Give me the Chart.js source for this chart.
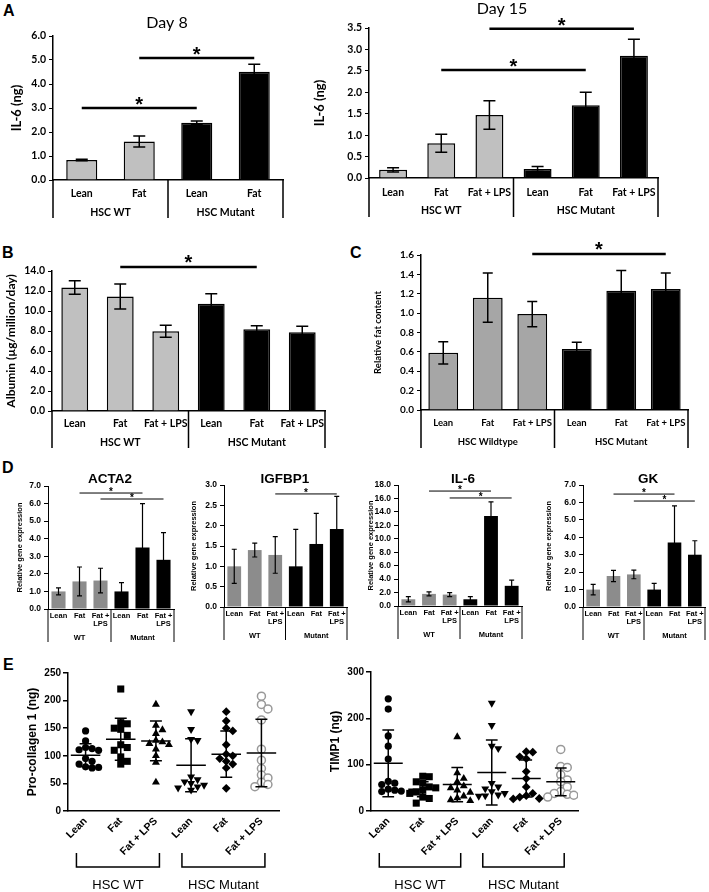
<!DOCTYPE html>
<html>
<head>
<meta charset="utf-8">
<script src="https://cdn.jsdelivr.net/npm/chart.js@4.4.0/dist/chart.umd.min.js"></script>
<style>
  body { margin: 0; background: #fff; }
  #fig { position: relative; width: 709px; height: 892px; overflow: hidden; }
  #fig canvas { position: absolute; }
  .letter { position: absolute; font: bold 16px "Liberation Sans", Arial, sans-serif; color: #000; }
</style>
</head>
<body>
<div id="fig">
  <div class="letter" style="left:3px;top:2px">A</div>
  <div class="letter" style="left:2px;top:244px">B</div>
  <div class="letter" style="left:350px;top:244px">C</div>
  <div class="letter" style="left:2px;top:459px">D</div>
  <div class="letter" style="left:3px;top:656px">E</div>
</div>
<script>
// ---- data ----
const catsDay8 = ['Lean', 'Fat', 'Lean', 'Fat'];
const cats6 = ['Lean', 'Fat', 'Fat + LPS', 'Lean', 'Fat', 'Fat + LPS'];
const catsD = ['Lean', 'Fat', ['Fat +', 'LPS'], 'Lean', 'Fat', ['Fat +', 'LPS']];
const groupsHSC = ['HSC WT', 'HSC Mutant'];
const groupsC = ['HSC Wildtype', 'HSC Mutant'];
const groupsD = ['WT', 'Mutant'];

const il6Day8 = [0.83, 1.6, 2.39, 4.51];
const il6Day8Err = [0.03, 0.23, 0.07, 0.31];
const il6Day8Sig = [[0, 2, 3.0], [1, 3, 5.08]];

const il6Day15 = [0.19, 0.81, 1.47, 0.21, 1.7, 2.85];
const il6Day15Err = [0.05, 0.21, 0.33, 0.06, 0.3, 0.39];
const il6Day15Sig = [[1, 4, 2.52], [2, 5, 3.48]];

const albumin = [12.35, 11.45, 7.97, 10.73, 8.17, 7.88];
const albuminErr = [0.67, 1.25, 0.6, 1.0, 0.35, 0.6];
const albuminSig = [[1, 4, 14.4]];

const fatContent = [0.59, 1.16, 0.99, 0.63, 1.23, 1.25];
const fatContentErr = [0.115, 0.255, 0.13, 0.07, 0.21, 0.165];
const fatContentSig = [[2, 5, 1.61]];

const acta2 = [1.0, 1.57, 1.62, 1.0, 3.5, 2.8];
const acta2Err = [0.2, 0.82, 0.7, 0.5, 2.5, 1.55];
const acta2Sig = [[1, 4, 6.6], [2, 5, 6.26]];

const igfbp1 = [1.0, 1.4, 1.28, 1.0, 1.55, 1.92];
const igfbp1Err = [0.42, 0.17, 0.45, 0.91, 0.75, 0.8];
const igfbp1Sig = [[2, 5, 2.78]];

const il6Gene = [1.0, 1.8, 1.7, 1.0, 13.4, 3.0];
const il6GeneErr = [0.4, 0.3, 0.3, 0.4, 2.1, 0.85];
const il6GeneSig = [[1, 4, 17.1], [2, 5, 16.07]];

const gk = [1.0, 1.78, 1.87, 1.0, 3.7, 3.0];
const gkErr = [0.3, 0.32, 0.25, 0.35, 2.1, 0.8];
const gkSig = [[1, 4, 6.48], [2, 5, 6.08]];

const procolLeanWT = [145, 127, 115, 113, 111, 110, 95, 90, 85, 80, 78, 79];
const procolFatWT = [221, 160, 158, 150, 148, 137, 120, 115, 110, 98, 90, 85];
const procolLpsWT = [193, 155, 147, 140, 128, 125, 122, 120, 112, 100, 88, 52];
const procolLeanMut = [180, 148, 130, 128, 62, 57, 53, 50, 47, 44, 42, 38];
const procolFatMut = [180, 163, 150, 145, 120, 103, 100, 95, 90, 85, 78, 41];
const procolLpsMut = [208, 193, 185, 165, 112, 92, 77, 65, 60, 52, 48, 44];
const procolMean = [101, 130, 127, 83, 103, 105];
const procolSD = [21, 38, 36, 48, 42, 61];

const timpLeanWT = [242, 220, 162, 140, 112, 64, 60, 57, 47, 45, 43, 42];
const timpFatWT = [75, 74, 63, 60, 52, 50, 45, 41, 38, 30, 27, 17];
const timpLpsWT = [160, 82, 70, 63, 54, 50, 45, 40, 32, 28, 24, 22];
const timpLeanMut = [233, 185, 140, 135, 60, 52, 48, 42, 38, 35, 33, 32];
const timpFatMut = [128, 127, 117, 113, 85, 70, 52, 38, 33, 30, 27, 26];
const timpLpsMut = [133, 96, 94, 78, 67, 63, 52, 42, 38, 36, 34, 30];
const timpMean = [103, 47, 57, 83, 70, 63];
const timpSD = [72, 16, 37, 70, 40, 30];

// ---- helpers ----
const XL = 'Lato, "Liberation Sans", sans-serif';
const AR = '"Liberation Sans", Arial, sans-serif';
const fig = document.getElementById('fig');

function addCanvas(box) {
  const c = document.createElement('canvas');
  c.width = box[2];
  c.height = box[3];
  c.style.left = box[0] + 'px';
  c.style.top = box[1] + 'px';
  fig.appendChild(c);
  return c;
}

function barExtras(s) {
  return {
    id: 'barExtras',
    afterDatasetsDraw(chart) {
      const {ctx, chartArea: a, scales: {x, y}} = chart;
      const ox = s.box[0], oy = s.box[1];
      ctx.save();
      ctx.strokeStyle = '#000';
      ctx.fillStyle = '#000';
      // error bars
      ctx.lineWidth = s.errW;
      s.errors.forEach((e, i) => {
        const cx = x.getPixelForValue(i), v = s.values[i];
        const y1 = y.getPixelForValue(v + e), y0 = y.getPixelForValue(v - e);
        ctx.beginPath();
        ctx.moveTo(cx, y1); ctx.lineTo(cx, y0);
        ctx.moveTo(cx - s.cap / 2, y1); ctx.lineTo(cx + s.cap / 2, y1);
        ctx.moveTo(cx - s.cap / 2, y0); ctx.lineTo(cx + s.cap / 2, y0);
        ctx.stroke();
      });
      // group dividers + labels
      const per = s.labels.length / s.groups.length;
      const edges = [a.left];
      for (let g = 1; g < s.groups.length; g++) {
        edges.push((x.getPixelForValue(g * per - 1) + x.getPixelForValue(g * per)) / 2);
      }
      edges.push(a.right);
      ctx.lineWidth = s.axisW;
      ctx.beginPath();
      edges.forEach(ex => { ctx.moveTo(ex, a.bottom); ctx.lineTo(ex, a.bottom + s.divDrop); });
      ctx.stroke();
      ctx.textAlign = 'center';
      ctx.textBaseline = 'middle';
      ctx.font = s.groupFont;
      s.groups.forEach((g, k) => ctx.fillText(g, (edges[k] + edges[k + 1]) / 2, a.bottom + s.groupY));
      // significance bars
      ctx.lineWidth = s.sigW;
      s.sig.forEach(([i, j, v]) => {
        const yy = y.getPixelForValue(v), x0 = x.getPixelForValue(i), x1 = x.getPixelForValue(j);
        ctx.beginPath(); ctx.moveTo(x0, yy); ctx.lineTo(x1, yy); ctx.stroke();
        ctx.font = 'bold ' + s.starSize + 'px ' + AR;
        ctx.textBaseline = 'alphabetic';
        ctx.fillText('*', (x0 + x1) / 2, yy - s.starGap + 0.56 * s.starSize);
      });
      ctx.textBaseline = 'middle';
      if (s.title) {
        ctx.font = s.title.font;
        ctx.fillText(s.title.text, s.title.x - ox, s.title.y - oy);
      }
      ctx.translate(s.yTitle.x - ox, (a.top + a.bottom) / 2);
      ctx.rotate(-Math.PI / 2);
      ctx.font = s.yTitle.font;
      ctx.fillText(s.yTitle.text, 0, 0);
      ctx.restore();
    }
  };
}

function barChart(s) {
  const [bx, by, bw, bh] = s.box;
  const [l, t, r, b] = s.area;
  const half = s.labels.length / 2;
  return new Chart(addCanvas(s.box), {
    type: 'bar',
    data: {
      labels: s.labels,
      datasets: [{
        data: s.values,
        backgroundColor: s.values.map((v, i) => i < half ? s.gray : '#000'),
        borderColor: '#000',
        borderWidth: s.border,
        barPercentage: s.barPct,
        categoryPercentage: 1
      }]
    },
    options: {
      responsive: false,
      animation: false,
      events: [],
      layout: { padding: { top: t - by, right: bx + bw - r, left: 0, bottom: 0 } },
      plugins: { legend: { display: false }, tooltip: { enabled: false } },
      scales: {
        x: {
          grid: { display: false, drawTicks: false },
          border: { color: '#000', width: s.axisW },
          ticks: {
            color: '#000', autoSkip: false, maxRotation: 0, padding: s.xPad,
            font: { family: s.family, size: s.xTick, weight: 'bold', lineHeight: s.lineH || 1.2 }
          },
          afterFit: sc => { sc.height = by + bh - b; }
        },
        y: {
          min: 0, max: s.max,
          grid: { drawOnChartArea: false, color: '#000', tickLength: 4, lineWidth: 1 },
          border: { color: '#000', width: s.axisW },
          ticks: {
            color: '#000', stepSize: s.step, padding: 3,
            font: { family: s.family, size: s.yTick, weight: 'bold' },
            callback: v => v.toFixed(1)
          },
          afterFit: sc => { sc.width = l - bx; }
        }
      }
    },
    plugins: [barExtras(s)]
  });
}

function dotExtras(s) {
  return {
    id: 'dotExtras',
    afterDatasetsUpdate(chart) {
      // spread points sideways so they do not overlap (column scatter)
      chart.data.datasets.forEach((ds, i) => {
        const pts = chart.getDatasetMeta(i).data;
        const placed = [];
        pts.slice().sort((p, q) => p.y - q.y).forEach(p => {
          const cx = p.x;
          for (let k = 0; k < 20; k++) {
            const off = (k % 2 ? 1 : -1) * Math.ceil(k / 2) * s.jit;
            if (placed.every(q => Math.hypot(q.x - cx - off, q.y - p.y) >= s.jit)) { p.x = cx + off; break; }
          }
          placed.push(p);
        });
      });
    },
    afterDatasetsDraw(chart) {
      const {ctx, chartArea: a, scales: {x, y}} = chart;
      const cw = x.getPixelForValue(1) - x.getPixelForValue(0);
      ctx.save();
      ctx.strokeStyle = '#000';
      ctx.fillStyle = '#000';
      ctx.lineWidth = 1.5;
      s.means.forEach((m, i) => {
        const cx = x.getPixelForValue(i);
        const ym = y.getPixelForValue(m), y1 = y.getPixelForValue(m + s.sds[i]), y0 = y.getPixelForValue(m - s.sds[i]);
        ctx.beginPath();
        ctx.moveTo(cx - cw * 0.42, ym); ctx.lineTo(cx + cw * 0.42, ym);
        ctx.moveTo(cx, y1); ctx.lineTo(cx, y0);
        ctx.moveTo(cx - cw * 0.17, y1); ctx.lineTo(cx + cw * 0.17, y1);
        ctx.moveTo(cx - cw * 0.17, y0); ctx.lineTo(cx + cw * 0.17, y0);
        ctx.stroke();
      });
      // group brackets
      ctx.font = '13px ' + AR;
      ctx.textAlign = 'center';
      ctx.textBaseline = 'middle';
      s.groups.forEach((g, k) => {
        const x0 = x.getPixelForValue(3 * k) - cw * 0.26, x1 = x.getPixelForValue(3 * k + 2) + cw * 0.1;
        const yb = a.bottom + 56, yt = a.bottom + 42;
        ctx.beginPath();
        ctx.moveTo(x0, yt); ctx.lineTo(x0, yb); ctx.lineTo(x1, yb); ctx.lineTo(x1, yt);
        ctx.stroke();
        ctx.fillText(g, (x0 + x1) / 2, a.bottom + 74);
      });
      ctx.translate(s.yTitle.x - s.box[0], (a.top + a.bottom) / 2);
      ctx.rotate(-Math.PI / 2);
      ctx.font = 'bold 12px ' + AR;
      ctx.fillText(s.yTitle.text, 0, 0);
      ctx.restore();
    }
  };
}

const marks = [
  { pointStyle: 'circle', radius: 3.6, rotation: 0 },
  { pointStyle: 'rect', radius: 5, rotation: 0 },
  { pointStyle: 'triangle', radius: 4.6, rotation: 0 },
  { pointStyle: 'triangle', radius: 4.6, rotation: 180 },
  { pointStyle: 'rectRot', radius: 4.4, rotation: 0 },
  { pointStyle: 'circle', radius: 4, rotation: 0, open: true }
];

function dotChart(s) {
  const [bx, by, bw, bh] = s.box;
  const [l, t, r, b] = s.area;
  return new Chart(addCanvas(s.box), {
    type: 'scatter',
    data: {
      datasets: s.series.map((vals, i) => ({
        data: vals.map(v => ({ x: i, y: v })),
        pointStyle: marks[i].pointStyle,
        rotation: marks[i].rotation,
        pointRadius: marks[i].radius,
        backgroundColor: marks[i].open ? '#fff' : '#000',
        borderColor: marks[i].open ? '#999' : '#000',
        borderWidth: marks[i].open ? 1.5 : 0
      }))
    },
    options: {
      responsive: false,
      animation: false,
      events: [],
      layout: { padding: { top: t - by, right: bx + bw - r, left: 0, bottom: 0 } },
      plugins: { legend: { display: false }, tooltip: { enabled: false } },
      scales: {
        x: {
          type: 'linear', min: -0.5, max: 5.5,
          grid: { display: false, drawTicks: false },
          border: { color: '#000', width: 1.5 },
          afterBuildTicks: sc => { sc.ticks = s.labels.map((lab, i) => ({ value: i })); },
          ticks: {
            color: '#000', autoSkip: false, minRotation: 45, maxRotation: 45, padding: 4,
            font: { family: AR, size: 10.5, weight: 'bold' },
            callback: v => s.labels[v]
          },
          afterFit: sc => { sc.height = by + bh - b; }
        },
        y: {
          min: 0, max: s.max,
          grid: { drawOnChartArea: false, color: '#000', tickLength: 5, lineWidth: 1.5 },
          border: { color: '#000', width: 1.5 },
          ticks: { color: '#000', stepSize: s.step, padding: 2, font: { family: AR, size: 10, weight: 'bold' } },
          afterFit: sc => { sc.width = l - bx; }
        }
      }
    },
    plugins: [dotExtras(s)]
  });
}

// ---- panel A ----
const excel = {
  family: XL, border: 1.5, axisW: 1.5, errW: 1.5, sigW: 2.5, starSize: 20, starGap: 8,
  groupFont: 'bold 10.5px ' + XL, xTick: 10.5, yTick: 10.5, cap: 12
};
barChart(Object.assign({}, excel, {
  box: [0, 0, 300, 230], area: [53, 36, 283, 180],
  labels: catsDay8, groups: groupsHSC, values: il6Day8, errors: il6Day8Err, sig: il6Day8Sig,
  max: 6, step: 1, gray: '#c0c0c0', barPct: 0.54, xPad: 7, groupY: 33, divDrop: 38,
  title: { text: 'Day 8', x: 167, y: 23, font: '16px ' + XL },
  yTitle: { text: 'IL-6 (ng)', x: 17, font: 'bold 13px ' + XL }
}));
barChart(Object.assign({}, excel, {
  box: [305, 0, 404, 230], area: [369, 28, 658, 178],
  labels: cats6, groups: groupsHSC, values: il6Day15, errors: il6Day15Err, sig: il6Day15Sig,
  max: 3.5, step: 0.5, gray: '#c0c0c0', barPct: 0.58, xPad: 8, groupY: 33, divDrop: 39,
  title: { text: 'Day 15', x: 502, y: 9, font: '16px ' + XL },
  yTitle: { text: 'IL-6 (ng)', x: 320, font: 'bold 13px ' + XL }
}));

// ---- panel B / C ----
barChart(Object.assign({}, excel, {
  box: [0, 232, 340, 225], area: [52, 271, 325, 411],
  labels: cats6, groups: groupsHSC, values: albumin, errors: albuminErr, sig: albuminSig,
  max: 14, step: 2, gray: '#c0c0c0', barPct: 0.59, xPad: 6, groupY: 32, divDrop: 37, starGap: 9,
  yTitle: { text: 'Albumin (µg/million/day)', x: 11, font: 'bold 12px ' + XL }
}));
barChart(Object.assign({}, excel, {
  box: [345, 232, 364, 225], area: [421, 255, 688, 410],
  labels: cats6, groups: groupsC, values: fatContent, errors: fatContentErr, sig: fatContentSig,
  max: 1.6, step: 0.2, gray: '#a6a6a6', barPct: 0.67, xPad: 7, groupY: 32, divDrop: 38, starGap: 9,
  xTick: 9.5, yTick: 10, cap: 10, groupFont: 'bold 9.5px ' + XL,
  yTitle: { text: 'Relative fat content', x: 378, font: 'bold 9.5px ' + XL }
}));

// ---- panel D ----
const gene = {
  family: AR, border: 0, axisW: 1, errW: 1.2, sigW: 1, starSize: 10, starGap: 4,
  groupFont: 'bold 7.5px ' + AR, xTick: 7.5, yTick: 8.5, lineH: 1.05, cap: 5,
  labels: catsD, groups: groupsD, gray: '#8c8c8c', barPct: 0.67, xPad: 3, groupY: 29, divDrop: 33
};
const geneTitle = 'bold 13.5px ' + AR, geneY = 'bold 7.5px ' + AR;
barChart(Object.assign({}, gene, {
  box: [0, 465, 178, 185], area: [48, 486, 174, 609],
  values: acta2, errors: acta2Err, sig: acta2Sig, max: 7, step: 1,
  title: { text: 'ACTA2', x: 110, y: 479, font: geneTitle },
  yTitle: { text: 'Relative gene expression', x: 20, font: geneY }
}));
barChart(Object.assign({}, gene, {
  box: [178, 465, 175, 185], area: [224, 485, 347, 607],
  values: igfbp1, errors: igfbp1Err, sig: igfbp1Sig, max: 3, step: 0.5,
  title: { text: 'IGFBP1', x: 285, y: 479, font: geneTitle },
  yTitle: { text: 'Relative gene expression', x: 194, font: geneY }
}));
barChart(Object.assign({}, gene, {
  box: [353, 465, 175, 185], area: [398, 485, 522, 606],
  values: il6Gene, errors: il6GeneErr, sig: il6GeneSig, max: 18, step: 2,
  title: { text: 'IL-6', x: 463, y: 479, font: geneTitle },
  yTitle: { text: 'Relative gene expression', x: 371, font: geneY }
}));
barChart(Object.assign({}, gene, {
  box: [528, 465, 181, 185], area: [583, 485, 705, 607],
  values: gk, errors: gkErr, sig: gkSig, max: 7, step: 1,
  title: { text: 'GK', x: 648, y: 479, font: geneTitle },
  yTitle: { text: 'Relative gene expression', x: 549, font: geneY }
}));

// ---- panel E ----
dotChart({
  box: [0, 645, 300, 247], area: [68, 673, 279, 811], max: 250, step: 50, jit: 6.5,
  labels: cats6, groups: groupsHSC,
  series: [procolLeanWT, procolFatWT, procolLpsWT, procolLeanMut, procolFatMut, procolLpsMut],
  means: procolMean, sds: procolSD,
  yTitle: { text: 'Pro-collagen 1 (ng)', x: 33 }
});
dotChart({
  box: [300, 645, 409, 247], area: [371, 672, 578, 811], max: 300, step: 100, jit: 6.5,
  labels: cats6, groups: groupsHSC,
  series: [timpLeanWT, timpFatWT, timpLpsWT, timpLeanMut, timpFatMut, timpLpsMut],
  means: timpMean, sds: timpSD,
  yTitle: { text: 'TIMP1 (ng)', x: 336 }
});
</script>
</body>
</html>
